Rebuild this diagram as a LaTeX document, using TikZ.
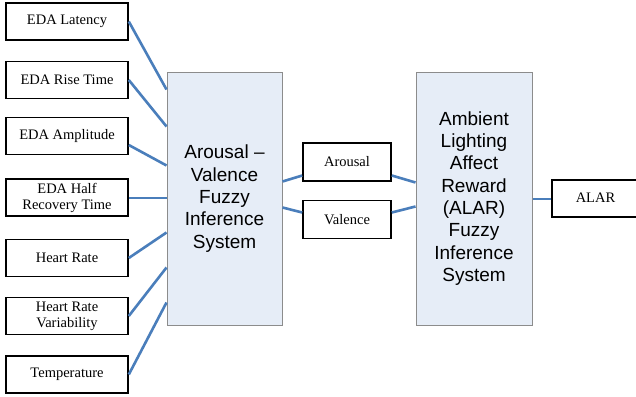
\documentclass[tikz,border=0pt]{standalone}
\usepackage{fontspec}
\setmainfont{Liberation Serif}
\setsansfont{Liberation Sans}
\usetikzlibrary{calc}
\definecolor{linkblue}{HTML}{4A7EBB}
\definecolor{fisfill}{HTML}{E6EDF7}
\definecolor{fisdraw}{HTML}{8C8C8C}
\tikzset{
  inbox/.style={draw=black, line width=1.6pt, fill=white, minimum width=122pt, minimum height=37pt,
    inner sep=0pt, align=center, font=\fontsize{14.5}{16}\selectfont},
  midbox/.style={draw=black, line width=1.6pt, fill=white, minimum width=88pt, minimum height=38pt,
    inner sep=0pt, align=center, font=\fontsize{14.5}{16}\selectfont},
  fisbox/.style={draw=fisdraw, line width=1pt, fill=fisfill, minimum height=253pt,
    inner sep=0pt, align=center, font=\sffamily\fontsize{19}{22.3}\selectfont},
  link/.style={draw=linkblue, line width=2.6pt},
  thinlink/.style={draw=linkblue, line width=2pt}
}
\begin{document}
\begin{tikzpicture}[x=1pt,y=-1pt]
\clip (0,0) rectangle (636,396);
\fill[white] (0,0) rectangle (636,396);
% left input boxes
\node[inbox] (b1) at (67,21.5) {EDA Latency};
\node[inbox] (b2) at (67,80) {EDA Rise Time};
\node[inbox] (b3) at (67,136) {EDA Amplitude};
\node[inbox] (b4) at (67,197.5) {EDA Half\\Recovery Time};
\node[inbox] (b5) at (67,258) {Heart Rate};
\node[inbox] (b6) at (67,316) {Heart Rate\\Variability};
\node[inbox] (b7) at (67,374.5) {Temperature};
% fuzzy inference systems
\node[fisbox, minimum width=115pt] (fis1) at (224.5,198.5) {Arousal --\\Valence\\Fuzzy\\Inference\\System};
\node[fisbox, minimum width=116pt] (fis2) at (474,198.5) {Ambient\\Lighting\\Affect\\Reward\\(ALAR)\\Fuzzy\\Inference\\System};
% intermediate outputs
\node[midbox] (ar) at (347,162) {Arousal};
\node[midbox] (va) at (347,219.5) {Valence};
\node[midbox, minimum width=96pt, minimum height=37pt] (alar) at (600,198.5) {};
\node[font=\fontsize{14.5}{16}\selectfont] (alartext) at (595.5,198) {ALAR};
% endpoints on fis1 west edge
\coordinate (e1) at ($(fis1.north west)+(0,18)$);
\coordinate (e2) at ($(fis1.north west)+(0,55)$);
\coordinate (e3) at ($(fis1.north west)+(0,94)$);
\coordinate (e4) at ($(fis1.north west)+(0,126)$);
\coordinate (e5) at ($(fis1.north west)+(0,161)$);
\coordinate (e6) at ($(fis1.north west)+(0,196)$);
\coordinate (e7) at ($(fis1.north west)+(0,231)$);
\draw[link] (b1.east) -- (e1);
\draw[link] (b2.east) -- (e2);
\draw[link] ($(b3.east)+(0,9)$) -- (e3);
\draw[thinlink] (b4.east) -- (e4);
\draw[link] (b5.east) -- (e5);
\draw[link] (b6.east) -- (e6);
\draw[link] (b7.east) -- (e7);
% fis1 to arousal / valence
\draw[link] ($(fis1.north east)+(0,110)$) -- ($(ar.west)+(0,13.5)$);
\draw[link] ($(fis1.north east)+(0,136)$) -- ($(va.west)+(0,-7)$);
% arousal / valence to fis2
\draw[link] ($(ar.east)+(0,13.5)$) -- ($(fis2.north west)+(0,111)$);
\draw[link] ($(va.east)+(0,-7)$) -- ($(fis2.north west)+(0,135)$);
% fis2 to ALAR
\draw[thinlink] (fis2.east) -- (alar.west);
\end{tikzpicture}
\end{document}
